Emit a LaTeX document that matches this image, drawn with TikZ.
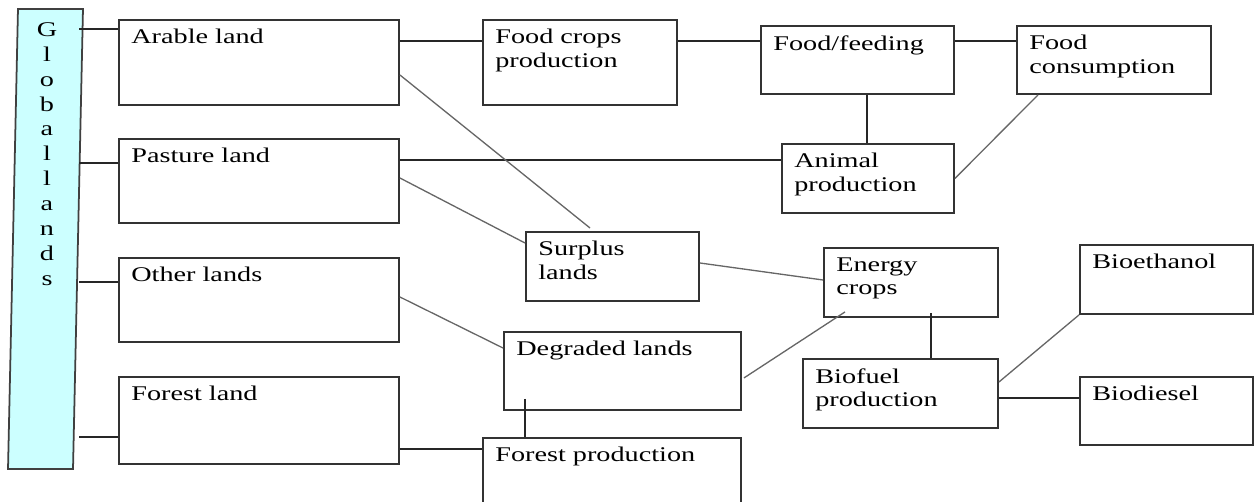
\documentclass[tikz,border=0pt]{standalone}
\usepackage{fontspec}
\setmainfont[FakeStretch=1.35]{Liberation Serif}
\usetikzlibrary{calc}
\definecolor{barcyan}{HTML}{CCFFFF}
\newcommand\lbl{\fontsize{11.9pt}{13.6pt}\selectfont}
\newcommand\barlbl{\fontsize{11.9pt}{14.2pt}\selectfont}
\newcommand\mybox[6]{%
  \node[boxst, minimum width={(#4-#2)*0.02cm}, minimum height={(#5-#3)*0.02cm}] (#1) at (#2,#3) {};
  \node[txt] (#1-t) at ($(#1.north west)+(13,10)$) {#6};}
\begin{document}
\begin{tikzpicture}[x=0.02cm,y=-0.02cm,
  boxst/.style={draw=black!80, line width=1.1pt, fill=white, rectangle, inner sep=0pt, anchor=north west},
  txt/.style={inner sep=0pt, anchor=north west, align=left, font=\lbl},
  conn/.style={draw=black!85, line width=1.1pt},
  diag/.style={draw=black!60, line width=0.75pt}]
\useasboundingbox (0,0) rectangle (1254,502);
\clip (0,0) rectangle (1254,502);
% Global lands bar
\node[draw=black!75, line width=1pt, fill=barcyan, rectangle, inner sep=0pt,
      minimum width={65*0.02cm}, minimum height={460*0.02cm}, xslant=0.0217] (bar) at (45.5,239) {};
\node[inner sep=0pt, anchor=north, align=center, font=\barlbl] (bar-t) at (47,22)
  {G\\l\\o\\b\\a\\l\\l\\a\\n\\d\\s};
% boxes
\mybox{arable}{118}{19}{398}{104}{Arable land}
\mybox{pasture}{118}{138}{398}{222}{Pasture land}
\mybox{other}{118}{257}{398}{341}{Other lands}
\mybox{forest}{118}{376}{398}{463}{Forest land}
\mybox{fc}{482}{19}{676}{104}{Food crops\\production}
\mybox{ff}{760}{25}{953}{93}{Food/feeding}
\mybox{fcons}{1016}{25}{1210}{93}{Food\\consumption}
\mybox{animal}{781}{143}{953}{212}{Animal\\production}
\mybox{surplus}{525}{231}{698}{300}{Surplus\\lands}
\mybox{energy}{823}{247}{997}{316}{Energy\\crops}
\mybox{bioeth}{1079}{244}{1252}{313}{Bioethanol}
\mybox{degraded}{503}{331}{740}{409}{Degraded lands}
\mybox{biofuel}{802}{358}{997}{427}{Biofuel\\production}
\mybox{biodiesel}{1079}{376}{1252}{444}{Biodiesel}
\mybox{fp}{482}{437}{740}{530}{Forest production}
% connectors
\draw[conn] ($(arable.north west)+(0,10)$) coordinate (c1) -- (c1 -| bar.east);
\draw[conn] ($(pasture.north west)+(0,25)$) coordinate (c2) -- (c2 -| bar.east);
\draw[conn] ($(other.north west)+(0,25)$) coordinate (c3) -- (c3 -| bar.east);
\draw[conn] ($(forest.north west)+(0,61)$) coordinate (c4) -- (c4 -| bar.east);
\draw[conn] ($(arable.north east)+(0,22)$) coordinate (c5) -- (c5 -| fc.west);
\draw[conn] ($(fc.north east)+(0,22)$) coordinate (c6) -- (c6 -| ff.west);
\draw[conn] ($(ff.north east)+(0,16)$) coordinate (c7) -- (c7 -| fcons.west);
\draw[conn] ($(ff.south west)+(107,0)$) coordinate (c8) -- (c8 |- animal.north);
\draw[conn] ($(pasture.north east)+(0,22)$) coordinate (c9) -- (c9 -| animal.west);
\draw[diag] (animal.east) -- ($(fcons.south west)+(22,0)$);
\draw[diag] ($(arable.north east)+(0,56)$) -- ($(surplus.north west)+(65,-3)$);
\draw[diag] ($(pasture.north east)+(0,40)$) -- ($(surplus.north west)+(0,12)$);
\draw[diag] ($(surplus.north east)+(0,32)$) -- ($(energy.north west)+(0,33)$);
\draw[diag] ($(other.north east)+(0,40)$) -- ($(degraded.north west)+(0,17)$);
\draw[diag] ($(degraded.east)+(2,7)$) -- ($(energy.south west)+(22,-6)$);
\draw[conn] ($(degraded.south west)+(22,-12)$) coordinate (c16) -- (c16 |- fp.north);
\draw[conn] ($(forest.north east)+(0,73)$) coordinate (c17) -- (c17 -| fp.west);
\draw[conn] ($(energy.south west)+(108,-5)$) coordinate (c18) -- (c18 |- biofuel.north);
\draw[diag] ($(biofuel.north east)+(0,24)$) -- (bioeth.south west);
\draw[conn] ($(biofuel.north east)+(0,40)$) coordinate (c20) -- (c20 -| biodiesel.west);
\end{tikzpicture}
\end{document}
